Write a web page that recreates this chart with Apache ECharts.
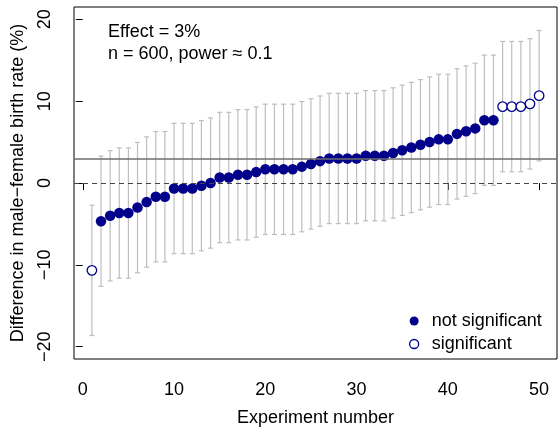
<!DOCTYPE html>
<html>
<head>
	<meta charset="utf-8">
	<title>Experiment differences</title>
	<style type="text/css">
		html, body {
			margin: 0;
			padding: 0;
			background: #fff;
		}
		#main {
			width: 559px;
			height: 432px;
		}
	</style>
</head>
<body>
<div id="main"></div>

<script src="https://cdn.jsdelivr.net/npm/echarts@6/dist/echarts.min.js"></script>
<script>
    // experiment numbers 1..50
    var experiments = [1, 2, 3, 4, 5, 6, 7, 8, 9, 10, 11, 12, 13, 14, 15, 16, 17, 18, 19, 20,
        21, 22, 23, 24, 25, 26, 27, 28, 29, 30, 31, 32, 33, 34, 35, 36, 37, 38, 39, 40,
        41, 42, 43, 44, 45, 46, 47, 48, 49, 50];
    // estimated difference (%), sorted
    var diffs = [-10.67, -4.67, -4.0, -3.67, -3.67, -3.0, -2.33, -1.67, -1.67, -0.67,
        -0.67, -0.67, -0.33, 0.0, 0.67, 0.67, 1.0, 1.0, 1.33, 1.67,
        1.67, 1.67, 1.67, 2.0, 2.33, 2.67, 3.0, 3.0, 3.0, 3.0,
        3.33, 3.33, 3.33, 3.67, 4.0, 4.33, 4.67, 5.0, 5.33, 5.33,
        6.0, 6.33, 6.67, 7.67, 7.67, 9.33, 9.33, 9.33, 9.67, 10.67];
    // experiments whose interval excludes 0
    var significantIds = [1, 46, 47, 48, 49, 50];
    // half width of the interval (%)
    var ciHalf = 7.96;
    var trueEffect = 3;
    var xTicks = [0, 10, 20, 30, 40, 50];
    var yTicks = [-20, -10, 0, 10, 20];

    var FONT = '"Liberation Sans", Arial, Helvetica, sans-serif';
    var BLUE = '#00008b';

    var barData = [];
    var notSig = [];
    var sig = [];
    for (var i = 0; i < experiments.length; i++) {
        barData.push([experiments[i], diffs[i] - ciHalf, diffs[i] + ciHalf]);
        if (significantIds.indexOf(experiments[i]) >= 0) {
            sig.push([experiments[i], diffs[i]]);
        } else {
            notSig.push([experiments[i], diffs[i]]);
        }
    }

    var myChart = echarts.init(document.getElementById('main'), null, {renderer: 'canvas'});

    var option = {
        animation: false,
        backgroundColor: '#fff',
        textStyle: {fontFamily: FONT},
        grid: {
            left: 74,
            right: 2,
            top: 7,
            bottom: 69,
            show: true,
            borderColor: '#000',
            borderWidth: 1,
            backgroundColor: 'transparent'
        },
        xAxis: {
            type: 'value',
            min: -0.96,
            max: 51.96,
            name: 'Experiment number',
            nameLocation: 'middle',
            nameGap: 50,
            nameTextStyle: {fontFamily: FONT, fontSize: 18, color: '#000'},
            axisLine: {show: false},
            axisTick: {show: true, length: 7, inside: false, customValues: xTicks,
                lineStyle: {color: '#000', width: 1}},
            axisLabel: {customValues: xTicks, margin: 22, fontFamily: FONT, fontSize: 18, color: '#000'},
            splitLine: {show: false}
        },
        yAxis: {
            type: 'value',
            min: -21.5,
            max: 21.5,
            name: 'Difference in male\u2212female birth rate (%)',
            nameLocation: 'middle',
            nameGap: 47,
            nameTextStyle: {fontFamily: FONT, fontSize: 18, color: '#000'},
            axisLine: {show: false},
            axisTick: {show: true, length: 7, inside: false, customValues: yTicks,
                lineStyle: {color: '#000', width: 1}},
            axisLabel: {
                customValues: yTicks,
                rotate: 90,
                margin: 20,
                fontFamily: FONT,
                fontSize: 18,
                color: '#000',
                formatter: function (v) {
                    return v < 0 ? '\u2212' + Math.abs(v) : String(v);
                }
            },
            splitLine: {show: false}
        },
        legend: {
            orient: 'vertical',
            left: 404,
            top: 307,
            itemWidth: 9,
            itemHeight: 9,
            itemGap: 5,
            textStyle: {fontFamily: FONT, fontSize: 18, color: '#000', lineHeight: 18, padding: [0, 0, 0, 8]},
            data: [
                {name: 'not significant', icon: 'circle', itemStyle: {color: BLUE, borderWidth: 0}},
                {name: 'significant', icon: 'circle',
                    itemStyle: {color: '#fff', borderColor: BLUE, borderWidth: 1.3}}
            ]
        },
        graphic: [
            {
                type: 'text',
                left: 108,
                top: 21,
                style: {
                    text: 'Effect = 3%\nn = 600, power \u2248 0.1',
                    font: '18px ' + FONT,
                    lineHeight: 22,
                    fill: '#000'
                }
            }
        ],
        series: [
            {
                name: 'interval',
                type: 'custom',
                data: barData,
                z: 1,
                renderItem: function (params, api) {
                    var x = api.value(0);
                    var lo = api.coord([x, api.value(1)]);
                    var hi = api.coord([x, api.value(2)]);
                    var cap = 2.5;
                    var style = {stroke: '#bebebe', lineWidth: 1.2};
                    return {
                        type: 'group',
                        children: [
                            {type: 'line', shape: {x1: lo[0], y1: lo[1], x2: hi[0], y2: hi[1]}, style: style},
                            {type: 'line', shape: {x1: lo[0] - cap, y1: lo[1], x2: lo[0] + cap, y2: lo[1]}, style: style},
                            {type: 'line', shape: {x1: hi[0] - cap, y1: hi[1], x2: hi[0] + cap, y2: hi[1]}, style: style}
                        ]
                    };
                },
                markLine: {
                    silent: true,
                    symbol: 'none',
                    label: {show: false},
                    data: [
                        {yAxis: 0, lineStyle: {color: '#444', type: [5, 4], width: 1.2}},
                        {yAxis: trueEffect, lineStyle: {color: '#6e6e6e', type: 'solid', width: 1.5}}
                    ]
                }
            },
            {
                name: 'not significant',
                type: 'scatter',
                symbol: 'circle',
                symbolSize: 10.5,
                z: 3,
                itemStyle: {color: BLUE, opacity: 1},
                data: notSig
            },
            {
                name: 'significant',
                type: 'scatter',
                symbol: 'circle',
                symbolSize: 9.5,
                z: 3,
                itemStyle: {color: '#fff', borderColor: BLUE, borderWidth: 1.3, opacity: 1},
                data: sig
            }
        ]
    };

    myChart.setOption(option);
</script>
</body>
</html>
